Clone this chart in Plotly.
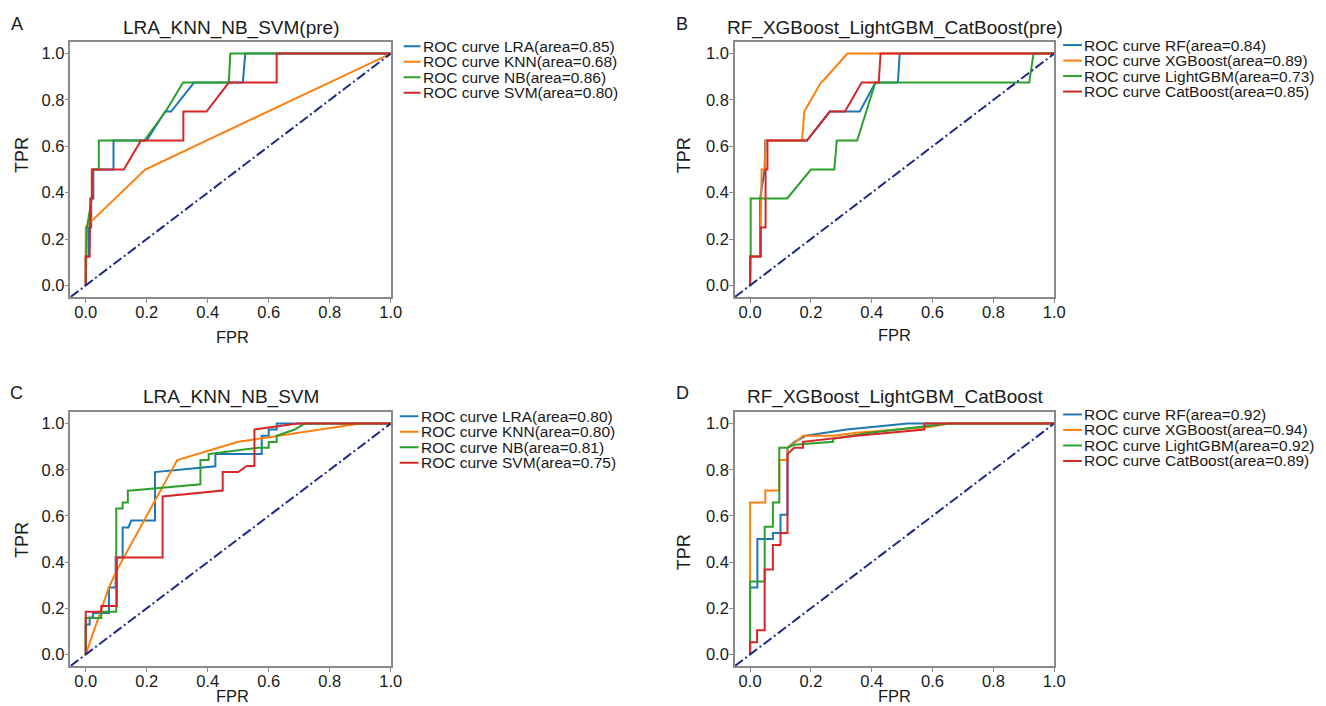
import plotly.graph_objects as go

# ---------------- data ----------------
colors = ["#1f77b4", "#ff7f0e", "#2ca02c", "#d62728"]
diag = [-0.05, 1.0]

titles = ["LRA_KNN_NB_SVM(pre)", "RF_XGBoost_LightGBM_CatBoost(pre)",
          "LRA_KNN_NB_SVM", "RF_XGBoost_LightGBM_CatBoost"]
panel_letters = ["A", "B", "C", "D"]
models_1 = ["LRA", "KNN", "NB", "SVM"]
models_2 = ["RF", "XGBoost", "LightGBM", "CatBoost"]
auc_a = [0.85, 0.68, 0.86, 0.80]
auc_b = [0.84, 0.89, 0.73, 0.85]
auc_c = [0.80, 0.80, 0.81, 0.75]
auc_d = [0.92, 0.94, 0.92, 0.89]
tick_vals = [0.0, 0.2, 0.4, 0.6, 0.8, 1.0]
tick_text = ["0.0", "0.2", "0.4", "0.6", "0.8", "1.0"]

# Panel A
a_lra_fpr = [0, 0.0, 0.01, 0.01, 0.018, 0.018, 0.025, 0.025, 0.091, 0.091, 0.2, 0.26, 0.28, 0.355, 0.515, 0.523, 1.0]
a_lra_tpr = [0, 0.125, 0.125, 0.25, 0.25, 0.375, 0.375, 0.5, 0.5, 0.625, 0.625, 0.75, 0.75, 0.875, 0.875, 1.0, 1.0]
a_knn_fpr = [0, 0, 0.013, 0.195, 1.0]
a_knn_tpr = [0, 0.25, 0.27, 0.5, 1.0]
a_nb_fpr = [0, 0.004, 0.02, 0.024, 0.043, 0.043, 0.192, 0.262, 0.319, 0.469, 0.474, 1.0]
a_nb_tpr = [0, 0.25, 0.375, 0.5, 0.5, 0.625, 0.625, 0.75, 0.875, 0.875, 1.0, 1.0]
a_svm_fpr = [0, 0, 0.013, 0.015, 0.02, 0.02, 0.125, 0.181, 0.32, 0.32, 0.396, 0.469, 0.626, 0.626, 1.0]
a_svm_tpr = [0, 0.125, 0.125, 0.375, 0.375, 0.5, 0.5, 0.625, 0.625, 0.75, 0.75, 0.875, 0.875, 1.0, 1.0]

# Panel B
b_rf_fpr = [0, 0, 0.033, 0.033, 0.048, 0.05, 0.187, 0.261, 0.361, 0.412, 0.486, 0.492, 1.0]
b_rf_tpr = [0, 0.125, 0.125, 0.375, 0.5, 0.625, 0.625, 0.75, 0.75, 0.875, 0.875, 1.0, 1.0]
b_xgb_fpr = [0, 0, 0.035, 0.035, 0.038, 0.048, 0.051, 0.171, 0.178, 0.233, 0.242, 0.32, 1.0]
b_xgb_tpr = [0, 0.125, 0.125, 0.25, 0.5, 0.5, 0.625, 0.625, 0.75, 0.875, 0.885, 1.0, 1.0]
b_lgbm_fpr = [0, 0.002, 0.002, 0.122, 0.2, 0.277, 0.285, 0.352, 0.412, 0.918, 0.932, 1.0]
b_lgbm_tpr = [0, 0.125, 0.375, 0.375, 0.5, 0.5, 0.625, 0.625, 0.875, 0.875, 1.0, 1.0]
b_cat_fpr = [0, 0, 0.035, 0.035, 0.051, 0.051, 0.057, 0.057, 0.187, 0.263, 0.312, 0.367, 0.423, 0.429, 1.0]
b_cat_tpr = [0, 0.125, 0.125, 0.25, 0.25, 0.5, 0.5, 0.625, 0.625, 0.75, 0.75, 0.875, 0.875, 1.0, 1.0]

# Panel C
c_lra_fpr = [0, 0, 0.013, 0.013, 0.024, 0.024, 0.076, 0.076, 0.098, 0.098, 0.121, 0.121, 0.14, 0.149, 0.227, 0.227, 0.425, 0.425, 0.577, 0.577, 0.6, 0.6, 0.626, 0.626, 1.0]
c_lra_tpr = [0, 0.13, 0.13, 0.16, 0.16, 0.18, 0.18, 0.29, 0.29, 0.42, 0.42, 0.55, 0.55, 0.58, 0.58, 0.79, 0.815, 0.868, 0.868, 0.947, 0.947, 0.974, 0.974, 1.0, 1.0]
c_knn_fpr = [0, 0.076, 0.1, 0.3, 0.5, 0.6, 0.9, 1.0]
c_knn_tpr = [0, 0.29, 0.36, 0.842, 0.921, 0.94, 1.0, 1.0]
c_nb_fpr = [0, 0, 0.051, 0.051, 0.1, 0.1, 0.121, 0.121, 0.138, 0.138, 0.15, 0.376, 0.376, 0.403, 0.403, 0.566, 0.6, 0.6, 0.626, 0.626, 0.685, 0.718, 1.0]
c_nb_tpr = [0, 0.158, 0.158, 0.185, 0.185, 0.632, 0.632, 0.658, 0.658, 0.71, 0.71, 0.737, 0.842, 0.842, 0.868, 0.895, 0.895, 0.92, 0.92, 0.947, 0.974, 1.0, 1.0]
c_svm_fpr = [0, 0, 0.051, 0.051, 0.102, 0.102, 0.252, 0.252, 0.449, 0.449, 0.5, 0.528, 0.553, 0.553, 0.696, 1.0]
c_svm_tpr = [0, 0.185, 0.185, 0.21, 0.21, 0.42, 0.42, 0.684, 0.71, 0.79, 0.79, 0.816, 0.816, 0.974, 1.0, 1.0]

# Panel D
d_rf_fpr = [0, 0, 0.024, 0.024, 0.075, 0.075, 0.1, 0.1, 0.123, 0.123, 0.145, 0.183, 0.318, 0.518, 1.0]
d_rf_tpr = [0, 0.29, 0.29, 0.5, 0.5, 0.526, 0.526, 0.605, 0.605, 0.895, 0.92, 0.947, 0.974, 1.0, 1.0]
d_xgb_fpr = [0, 0, 0.05, 0.05, 0.096, 0.096, 0.123, 0.123, 0.15, 0.174, 0.275, 0.35, 0.59, 0.654, 1.0]
d_xgb_tpr = [0, 0.658, 0.658, 0.71, 0.71, 0.842, 0.842, 0.895, 0.92, 0.947, 0.947, 0.96, 0.985, 1.0, 1.0]
d_lgbm_fpr = [0, 0, 0.048, 0.048, 0.075, 0.075, 0.096, 0.096, 0.123, 0.145, 0.273, 0.273, 0.394, 0.654, 1.0]
d_lgbm_tpr = [0, 0.316, 0.316, 0.553, 0.553, 0.658, 0.658, 0.895, 0.895, 0.908, 0.921, 0.934, 0.96, 1.0, 1.0]
d_cat_fpr = [0, 0, 0.023, 0.023, 0.048, 0.048, 0.075, 0.075, 0.1, 0.1, 0.123, 0.123, 0.145, 0.174, 0.174, 0.35, 0.573, 0.573, 1.0]
d_cat_tpr = [0, 0.053, 0.053, 0.105, 0.105, 0.368, 0.368, 0.474, 0.474, 0.526, 0.526, 0.868, 0.895, 0.895, 0.921, 0.947, 0.974, 1.0, 1.0]

# ---------------- layout helpers ----------------
OFF = 8                      # default page body margin
W, H = 1326 - OFF, 706 - OFF
FONT = "Liberation Sans, Arial, sans-serif"
TXT = "#1a1a1a"
# plot-area pixel boxes in window coordinates (left, top, right, bottom)
boxes = [(71, 42, 394, 297), (741, 42, 1063, 297), (71, 412, 394, 666), (741, 412, 1063, 666)]

panels = [
    (models_1, auc_a, [(a_lra_fpr, a_lra_tpr), (a_knn_fpr, a_knn_tpr), (a_nb_fpr, a_nb_tpr), (a_svm_fpr, a_svm_tpr)]),
    (models_2, auc_b, [(b_rf_fpr, b_rf_tpr), (b_xgb_fpr, b_xgb_tpr), (b_lgbm_fpr, b_lgbm_tpr), (b_cat_fpr, b_cat_tpr)]),
    (models_1, auc_c, [(c_lra_fpr, c_lra_tpr), (c_knn_fpr, c_knn_tpr), (c_nb_fpr, c_nb_tpr), (c_svm_fpr, c_svm_tpr)]),
    (models_2, auc_d, [(d_rf_fpr, d_rf_tpr), (d_xgb_fpr, d_xgb_tpr), (d_lgbm_fpr, d_lgbm_tpr), (d_cat_fpr, d_cat_tpr)]),
]

def px(x):
    return (x - OFF) / W

def py(y):
    return 1 - (y - OFF) / H

fig = go.Figure()
layout = dict(width=W, height=H, margin=dict(l=0, r=0, t=0, b=0),
              paper_bgcolor="white", plot_bgcolor="white", showlegend=False,
              font=dict(family=FONT, color=TXT))
annotations = []
shapes = []

# label positions (window pixels); FPR given as (x, y, yanchor)
title_pos = [(232.5, 28), (902, 28), (232.5, 397), (902, 397)]
letter_pos = [(17, 24), (688, 24), (17, 393), (688, 393)]
fpr_pos = [(234, 337, "middle"), (902, 335, "middle"), (234, 706, "bottom"), (902, 706, "bottom")]
tpr_pos = [(22, 155), (690, 155), (22, 540), (690, 552)]
leg_line = [(407, 424), (1072, 1091), (403, 422), (1072, 1091)]
leg_center = [69.5, 68.3, 439.5, 437.7]
leg_dy = 15.5

for i, (names, aucs, curves) in enumerate(panels):
    k = "" if i == 0 else str(i + 1)
    l, t, r, b = boxes[i]
    axstyle = dict(showline=True, mirror=True, linecolor="#8a8a8a", linewidth=1.5,
                   ticks="outside", ticklen=4, tickcolor="#8a8a8a", tickwidth=1,
                   showgrid=False, zeroline=False,
                   tickvals=tick_vals, ticktext=tick_text,
                   tickfont=dict(family=FONT, size=16.5, color=TXT))
    layout["xaxis" + k] = dict(domain=[px(l), px(r)], range=[-0.05, 1.0],
                               anchor="y" + k, ticklabelstandoff=-5, **axstyle)
    layout["yaxis" + k] = dict(domain=[py(b), py(t)], range=[-0.05, 1.05],
                               anchor="x" + k, ticklabelstandoff=-3, **axstyle)
    for j, (fx, ty) in enumerate(curves):
        fig.add_trace(go.Scatter(x=fx, y=ty, mode="lines",
                                 line=dict(color=colors[j], width=2),
                                 name=f"ROC curve {names[j]}(area={aucs[j]:.2f})",
                                 xaxis="x" + k, yaxis="y" + k))
    fig.add_trace(go.Scatter(x=diag, y=diag, mode="lines",
                             line=dict(color="#1e2a8a", width=2, dash="10px,3px,2px,3px"),
                             xaxis="x" + k, yaxis="y" + k))
    annotations.append(dict(x=px(title_pos[i][0]), y=py(title_pos[i][1]), xref="paper", yref="paper",
                            text=titles[i], showarrow=False, xanchor="center", yanchor="middle",
                            font=dict(family=FONT, size=19, color=TXT)))
    annotations.append(dict(x=px(letter_pos[i][0]), y=py(letter_pos[i][1]), xref="paper", yref="paper",
                            text=panel_letters[i], showarrow=False, xanchor="center", yanchor="middle",
                            font=dict(family=FONT, size=18, color=TXT)))
    annotations.append(dict(x=px(fpr_pos[i][0]), y=py(fpr_pos[i][1]), xref="paper", yref="paper",
                            text="FPR", showarrow=False, xanchor="center", yanchor=fpr_pos[i][2],
                            borderpad=0, font=dict(family=FONT, size=16.5, color=TXT)))
    annotations.append(dict(x=px(tpr_pos[i][0]), y=py(tpr_pos[i][1]), xref="paper", yref="paper",
                            text="TPR", showarrow=False, xanchor="center", yanchor="middle",
                            textangle=-90, font=dict(family=FONT, size=18, color=TXT)))
    for j in range(4):
        yy = leg_center[i] + (j - 1.5) * leg_dy
        shapes.append(dict(type="line", xref="paper", yref="paper",
                           x0=px(leg_line[i][0]), x1=px(leg_line[i][1]), y0=py(yy), y1=py(yy),
                           line=dict(color=colors[j], width=2)))
        annotations.append(dict(x=px(leg_line[i][1]), y=py(yy), xref="paper", yref="paper",
                                text=f"ROC curve {names[j]}(area={aucs[j]:.2f})", showarrow=False,
                                xanchor="left", yanchor="middle",
                                font=dict(family=FONT, size=15.5, color=TXT)))

layout["annotations"] = annotations
layout["shapes"] = shapes
fig.update_layout(**layout)
fig.write_html("out.html")
